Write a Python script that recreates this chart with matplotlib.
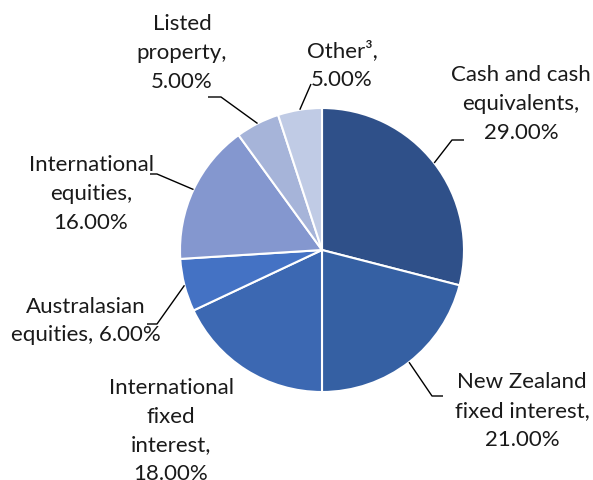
import numpy as np
import matplotlib
matplotlib.use("Agg")
import matplotlib.pyplot as plt

categories = ["Cash and cash\nequivalents,", "New Zealand\nfixed interest,", "International\nfixed\ninterest,",
              "Australasian\nequities,", "International\nequities,", "Listed\nproperty,", "Other\u00b3,"]
values = [29.0, 21.0, 18.0, 6.0, 16.0, 5.0, 5.0]
colors = ["#2F5089", "#3560A3", "#3C68B2", "#4472C4", "#8497CF", "#A6B4D9", "#C0CBE5"]

W, H = 593, 481
fig = plt.figure(figsize=(W / 100, H / 100), dpi=100)
ax = fig.add_axes([0, 0, 1, 1])

cx, cy, R = 322, H - 251, 142
wedges, _ = ax.pie(values, colors=colors, startangle=90, counterclock=False,
                   center=(cx, cy), radius=R, frame=True,
                   wedgeprops=dict(edgecolor="white", linewidth=1.5))
ax.set_xlim(0, W)
ax.set_ylim(0, H)
ax.set_aspect("equal")
ax.axis("off")

plt.rcParams["font.family"] = ["Lato", "DejaVu Sans"]
fs = 16

# label layout (image pixel coordinates, y down): centre of text block
label_pos = [(521, 104), (522, 411), (171, 431), (86, 321), (91, 194), (182, 53), (342, 65)]
label_text = [
    "Cash and cash\nequivalents,\n{:.2f}%",
    "New Zealand\nfixed interest,\n{:.2f}%",
    "International\nfixed\ninterest,\n{:.2f}%",
    "Australasian\nequities, {:.2f}%",
    "International\nequities,\n{:.2f}%",
    "Listed\nproperty,\n{:.2f}%",
    "Other\u00b3,\n{:.2f}%",
]
for (x, y), t, v in zip(label_pos, label_text, values):
    ax.text(x, H - y, t.format(v), ha="center", va="center", fontsize=fs,
            color="#1a1a1a", linespacing=1.55, multialignment="center")

# leader lines: start on the wedge edge at its mid angle, elbow and end near label
elbows = [((452, 141), (464, 141)), ((432, 397), (443, 397)), None,
          ((157, 325), (147, 325)), ((157, 175), (150, 175)), ((221, 98), (208, 98)),
          ((311, 85), None)]
cum = np.cumsum([0] + values[:-1])
for i, (v, c0) in enumerate(zip(values, cum)):
    if elbows[i] is None:
        continue
    mid = 90 - (c0 + v / 2) / sum(values) * 360
    sx = cx + R * np.cos(np.radians(mid))
    sy = cy + R * np.sin(np.radians(mid))
    (ex, ey), end = elbows[i]
    xs = [sx, ex]
    ys = [sy, H - ey]
    if end is not None:
        xs.append(end[0])
        ys.append(H - end[1])
    ax.plot(xs, ys, color="black", linewidth=1.0, solid_capstyle="butt")

fig.savefig("out.png", dpi=100, facecolor="white")
